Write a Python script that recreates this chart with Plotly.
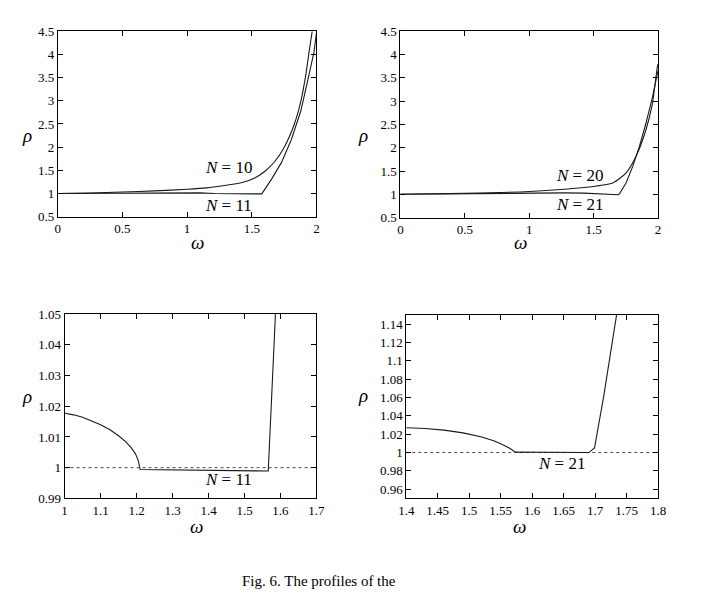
import plotly.graph_objects as go

# ---------------- data ----------------
# top-left panel
tl_w_n10 = [0.0, 0.25, 0.5, 0.75, 1.0, 1.15, 1.275, 1.426, 1.527, 1.602, 1.678, 1.753,
            1.829, 1.879, 1.917, 1.942, 1.967]
tl_r_n10 = [1.0, 1.01, 1.03, 1.055, 1.09, 1.12, 1.167, 1.237, 1.34, 1.48, 1.69, 2.01,
            2.5, 2.99, 3.55, 4.04, 4.5]
tl_w_n11 = [0.0, 0.5, 1.0, 1.1, 1.21, 1.57, 1.577, 1.653, 1.728, 1.804, 1.879, 1.93,
            1.98, 2.0]
tl_r_n11 = [1.0, 1.01, 1.0175, 1.013, 0.9995, 0.999, 0.99, 1.31, 1.66, 2.15, 2.78, 3.41,
            4.04, 4.46]

# top-right panel
tr_w_n20 = [0.0, 0.5, 1.0, 1.273, 1.525, 1.652, 1.752, 1.828, 1.904, 1.955, 1.992, 2.0]
tr_r_n20 = [1.0, 1.02, 1.06, 1.11, 1.18, 1.25, 1.46, 1.81, 2.37, 2.93, 3.7, 3.8]
tr_w_n21 = [0.0, 0.5, 1.0, 1.273, 1.424, 1.525, 1.6, 1.689, 1.699, 1.734, 1.752, 1.803,
            1.854, 1.904, 1.955, 1.992, 2.0]
tr_r_n21 = [1.0, 1.015, 1.03, 1.03, 1.026, 1.015, 0.995, 0.99, 1.005, 1.15, 1.25, 1.60,
            2.02, 2.51, 3.07, 3.56, 3.65]

# bottom-left panel (N = 11, zoom)
bl_w = [1.0, 1.025, 1.05, 1.075, 1.1, 1.125, 1.15, 1.17, 1.185, 1.197, 1.205, 1.21,
        1.566, 1.586]
bl_r = [1.0177, 1.0172, 1.0164, 1.0153, 1.0140, 1.0124, 1.0104, 1.0084, 1.0065, 1.0045,
        1.0022, 0.9994, 0.9989, 1.05]
bl_ref_w = [1.0, 1.7]
bl_ref_r = [1.0, 1.0]

# bottom-right panel (N = 21, zoom)
br_w = [1.4, 1.43, 1.46, 1.49, 1.52, 1.54, 1.555, 1.565, 1.573, 1.690, 1.699, 1.7135,
        1.734]
br_r = [1.027, 1.0262, 1.0245, 1.0215, 1.0170, 1.0125, 1.0080, 1.0045, 1.0005, 1.0,
        1.005, 1.061, 1.15]
br_ref_w = [1.4, 1.8]
br_ref_r = [1.0, 1.0]

# ticks
top_xticks = [0, 0.5, 1, 1.5, 2]
top_xlabels = ["0", "0.5", "1", "1.5", "2"]
top_yticks = [0.5, 1, 1.5, 2, 2.5, 3, 3.5, 4, 4.5]
top_ylabels = ["0.5", "1", "1.5", "2", "2.5", "3", "3.5", "4", "4.5"]
bl_xticks = [1, 1.1, 1.2, 1.3, 1.4, 1.5, 1.6, 1.7]
bl_xlabels = ["1", "1.1", "1.2", "1.3", "1.4", "1.5", "1.6", "1.7"]
bl_yticks = [0.99, 1, 1.01, 1.02, 1.03, 1.04, 1.05]
bl_ylabels = ["0.99", "1", "1.01", "1.02", "1.03", "1.04", "1.05"]
br_xticks = [1.4, 1.45, 1.5, 1.55, 1.6, 1.65, 1.7, 1.75, 1.8]
br_xlabels = ["1.4", "1.45", "1.5", "1.55", "1.6", "1.65", "1.7", "1.75", "1.8"]
br_yticks = [0.96, 0.98, 1, 1.02, 1.04, 1.06, 1.08, 1.1, 1.12, 1.14]
br_ylabels = ["0.96", "0.98", "1", "1.02", "1.04", "1.06", "1.08", "1.1", "1.12", "1.14"]

W, H = 712, 599
LC = "#1a1a1a"
SERIF = "Liberation Serif"

fig = go.Figure()

def line(x, y, xa, ya, dash="solid", width=1.1, shape="spline"):
    fig.add_trace(go.Scatter(x=x, y=y, mode="lines", xaxis=xa, yaxis=ya,
                             line=dict(color=LC, width=width, dash=dash, shape=shape,
                                       smoothing=0.6),
                             showlegend=False, hoverinfo="skip"))

line(tl_w_n10, tl_r_n10, "x", "y")
line(tl_w_n11, tl_r_n11, "x", "y", shape="linear")
line(tr_w_n20, tr_r_n20, "x2", "y2")
line(tr_w_n21, tr_r_n21, "x2", "y2", shape="linear")
line(bl_ref_w, bl_ref_r, "x3", "y3", dash="dot", width=0.8, shape="linear")
line(bl_w, bl_r, "x3", "y3", shape="linear")
line(br_ref_w, br_ref_r, "x4", "y4", dash="dot", width=0.8, shape="linear")
line(br_w, br_r, "x4", "y4", shape="linear")

def px_x(a, b):
    return [a / W, b / W]

def px_y(top, bottom):
    return [1 - bottom / H, 1 - top / H]

def axis(domain, rng, tv, tt, anchor):
    return dict(domain=domain, range=rng, tickvals=tv, ticktext=tt, anchor=anchor,
                showline=True, linecolor="black", linewidth=1, mirror="allticks",
                ticks="inside", ticklen=5, tickcolor="black", tickwidth=1,
                showgrid=False, zeroline=False,
                tickfont=dict(family=SERIF, size=13, color="black"))

fig.update_layout(
    width=W, height=H, margin=dict(l=0, r=0, t=0, b=0),
    paper_bgcolor="white", plot_bgcolor="white", showlegend=False,
    xaxis=axis(px_x(51, 316), [0, 2], top_xticks, top_xlabels, "y"),
    yaxis=axis(px_y(25, 215), [0.5, 4.5], top_yticks, top_ylabels, "x"),
    xaxis2=axis(px_x(402, 666), [0, 2], top_xticks, top_xlabels, "y2"),
    yaxis2=axis(px_y(25, 216), [0.5, 4.5], top_yticks, top_ylabels, "x2"),
    xaxis3=axis(px_x(58, 316), [1, 1.7], bl_xticks, bl_xlabels, "y3"),
    yaxis3=axis(px_y(315, 504), [0.99, 1.05], bl_yticks, bl_ylabels, "x3"),
    xaxis4=axis(px_x(408, 666), [1.4, 1.8], br_xticks, br_xlabels, "y4"),
    yaxis4=axis(px_y(316, 504), [0.95, 1.15], br_yticks, br_ylabels, "x4"),
)

def label(txt, x, y, xref, yref, size=17):
    fig.add_annotation(text=txt, x=x, y=y, xref=xref, yref=yref, showarrow=False,
                       font=dict(family=SERIF, size=size, color="black"))

# curve labels
label("<i>N</i> = 10", 1.32, 1.57, "x", "y")
label("<i>N</i> = 11", 1.32, 0.745, "x", "y")
label("<i>N</i> = 20", 1.39, 1.40, "x2", "y2")
label("<i>N</i> = 21", 1.39, 0.78, "x2", "y2")
label("<i>N</i> = 11", 1.455, 0.996, "x3", "y3")
label("<i>N</i> = 21", 1.647, 0.988, "x4", "y4")

# axis titles (paper coords from pixels)
def plabel(txt, xp, yp, size=19):
    fig.add_annotation(text=txt, x=xp / W, y=1 - yp / H, xref="paper", yref="paper",
                       showarrow=False, font=dict(family=SERIF, size=size, color="black"))

plabel("<i>ρ</i>", 12, 119)
plabel("<i>ρ</i>", 364, 119)
plabel("<i>ρ</i>", 12, 412)
plabel("<i>ρ</i>", 364, 411)
plabel("<i>ω</i>", 185, 242)
plabel("<i>ω</i>", 534, 242)
plabel("<i>ω</i>", 184, 546)
plabel("<i>ω</i>", 533, 546)

# caption at the bottom edge
fig.add_annotation(text="Fig. 6. The profiles of the", x=238 / W, y=0,
                   xref="paper", yref="paper", xanchor="left", yanchor="bottom",
                   showarrow=False, font=dict(family=SERIF, size=15, color="black"))

fig.write_html("out.html")
